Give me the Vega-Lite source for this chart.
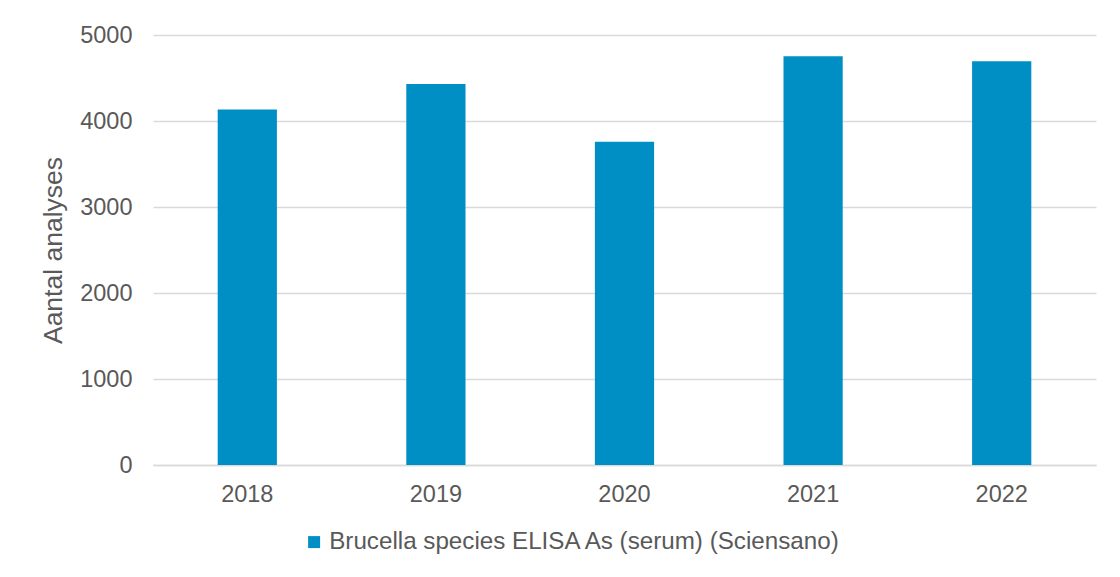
{
  "$schema": "https://vega.github.io/schema/vega-lite/v6.json",
  "width": 943,
  "height": 430,
  "autosize": "none",
  "padding": {"left": 153, "top": 35, "right": 24, "bottom": 112},
  "background": "#ffffff",
  "config": {
    "view": {"stroke": null},
    "font": "Liberation Sans",
    "axis": {"labelColor": "#595959", "titleColor": "#595959", "labelFont": "Liberation Sans", "titleFont": "Liberation Sans"},
    "legend": {"labelFont": "Liberation Sans"}
  },
  "data": {
    "values": [
      {"jaar": "2018", "analyses": 4133, "reeks": "Brucella species ELISA As (serum) (Sciensano)"},
      {"jaar": "2019", "analyses": 4430, "reeks": "Brucella species ELISA As (serum) (Sciensano)"},
      {"jaar": "2020", "analyses": 3760, "reeks": "Brucella species ELISA As (serum) (Sciensano)"},
      {"jaar": "2021", "analyses": 4752, "reeks": "Brucella species ELISA As (serum) (Sciensano)"},
      {"jaar": "2022", "analyses": 4694, "reeks": "Brucella species ELISA As (serum) (Sciensano)"}
    ]
  },
  "mark": {"type": "bar", "color": "#008FC4"},
  "encoding": {
    "x": {
      "field": "jaar",
      "type": "ordinal",
      "scale": {"paddingInner": 0.686, "paddingOuter": 0.343},
      "axis": {
        "title": null,
        "labelAngle": 0,
        "labelFontSize": 23.5,
        "labelPadding": 17,
        "ticks": false,
        "domainColor": "#d9d9d9",
        "domainWidth": 1.5
      }
    },
    "y": {
      "field": "analyses",
      "type": "quantitative",
      "scale": {"domain": [0, 5000]},
      "axis": {
        "title": "Aantal analyses",
        "titleFontSize": 26.5,
        "titleFontWeight": "normal",
        "titleX": -100,
        "titleY": 215,
        "titleAngle": -90,
        "titleAlign": "center",
        "titleBaseline": "middle",
        "values": [0, 1000, 2000, 3000, 4000, 5000],
        "format": "d",
        "labelFontSize": 23.5,
        "labelPadding": 21,
        "ticks": false,
        "domain": false,
        "gridColor": "#d9d9d9",
        "gridWidth": 1.5
      }
    },
    "fill": {
      "field": "reeks",
      "type": "nominal",
      "scale": {"range": ["#008FC4"]},
      "legend": {
        "title": null,
        "orient": "none",
        "legendX": 149,
        "legendY": 495,
        "padding": 0,
        "symbolType": "square",
        "symbolSize": 144,
        "symbolStrokeWidth": 0,
        "labelFontSize": 24.2,
        "labelColor": "#595959",
        "labelOffset": 3,
        "labelLimit": 0
      }
    }
  }
}
